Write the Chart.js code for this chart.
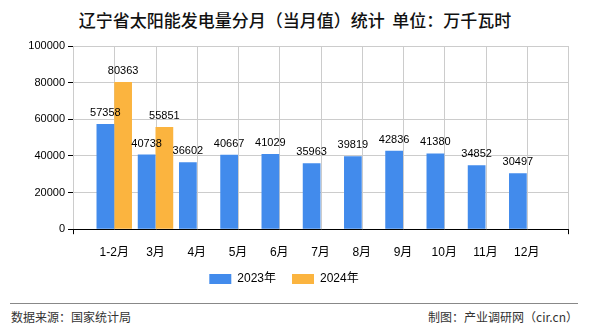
<!DOCTYPE html>
<html>
<head>
<meta charset="utf-8">
<script src="https://cdn.jsdelivr.net/npm/chart.js@4.4.1/dist/chart.umd.min.js"></script>
<style>
body { margin:0; width:590px; height:330px; background:#fff; position:relative; overflow:hidden; font-family:"Liberation Sans","Noto Sans CJK SC",sans-serif; }
#titulo { position:absolute; top:7px; left:0; width:590px; text-align:center; font:500 17px "Noto Sans CJK SC"; color:#111; }
#box { position:absolute; left:0; top:0; width:590px; height:295px; }
#linha { position:absolute; left:10px; width:568px; top:303px; border-top:1px solid #888; }
.rodape { position:absolute; top:308px; font-size:12px; color:#333; font-family:"Noto Sans CJK SC",sans-serif; }
</style>
</head>
<body>
<div id="titulo">辽宁省太阳能发电量分月（当月值）统计&nbsp;&nbsp;单位：万千瓦时</div>
<div id="box"><canvas id="grafico"></canvas></div>
<div id="linha"></div>
<div class="rodape" style="left:11px">数据来源：国家统计局</div>
<div class="rodape" style="right:12px">制图：产业调研网（cir.cn）</div>
<script>
// dados
const meses = ['1-2月', '3月', '4月', '5月', '6月', '7月', '8月', '9月', '10月', '11月', '12月'];
const v2023 = [57358, 40738, 36602, 40667, 41029, 35963, 39819, 42836, 41380, 34852, 30497];
const v2024 = [80363, 55851];
const yTicks = [0, 20000, 40000, 60000, 80000, 100000];

const AZUL = '#428BEC';
const LARANJA = '#FBB43F';

// uma posição vazia em cada ponta do eixo
const rotulosX = [''].concat(meses, ['']);
const completar = arr => [null].concat(meses.map((m, i) => arr[i] ?? null), [null]);

// grade vertical em todas as categorias (o Chart.js pulava linhas)
const gradeX = {
    id: 'gradeX',
    beforeDatasetsDraw(chart) {
        const { ctx, chartArea: a, scales: { x } } = chart;
        ctx.save();
        ctx.lineWidth = 1;
        ctx.strokeStyle = '#cccccc';
        ctx.beginPath();
        rotulosX.forEach((r, i) => {
            const px = Math.round(x.getPixelForValue(i)) + 0.5;
            ctx.moveTo(px, a.top);
            ctx.lineTo(px, a.bottom);
        });
        ctx.stroke();
        // tracinhos só nas pontas do eixo x
        ctx.strokeStyle = '#000';
        ctx.beginPath();
        [0, rotulosX.length - 1].forEach(i => {
            const px = Math.round(x.getPixelForValue(i)) + 0.5;
            ctx.moveTo(px, a.bottom);
            ctx.lineTo(px, a.bottom + 5);
        });
        ctx.stroke();
        ctx.restore();
    }
};

// valores em cima das barras
const rotulos = {
    id: 'rotulos',
    afterDatasetsDraw(chart) {
        const ctx = chart.ctx;
        ctx.save();
        ctx.font = '11px "Liberation Sans"';
        ctx.fillStyle = '#000';
        ctx.textAlign = 'center';
        ctx.textBaseline = 'alphabetic';
        chart.data.datasets.forEach((ds, i) => {
            chart.getDatasetMeta(i).data.forEach((bar, j) => {
                const v = ds.data[j];
                if (v == null) return;
                ctx.fillText(v, bar.x, bar.y - 8);
            });
        });
        ctx.restore();
    }
};

new Chart(document.getElementById('grafico'), {
    type: 'bar',
    data: {
        labels: rotulosX,
        datasets: [
            { label: '2023年', data: completar(v2023), backgroundColor: AZUL, borderWidth: 0 },
            { label: '2024年', data: completar(v2024), backgroundColor: LARANJA, borderWidth: 0 }
        ]
    },
    options: {
        responsive: true,
        maintainAspectRatio: false,
        animation: false,
        categoryPercentage: 0.86,
        barPercentage: 1,
        layout: { padding: { top: 46, right: 22, left: 0, bottom: 0 } },
        scales: {
            x: {
                offset: false,
                border: { color: '#000' },
                grid: { display: false },
                ticks: { color: '#000', font: { size: 12, family: '"Liberation Sans","Noto Sans CJK SC"' }, padding: 8, maxRotation: 0, autoSkip: false },
                afterFit: s => { s.height = 27.8; }
            },
            y: {
                min: 0,
                max: 100000,
                border: { color: '#000' },
                grid: { color: '#cccccc', tickColor: '#000', tickLength: 5 },
                afterBuildTicks: s => { s.ticks = yTicks.map(v => ({ value: v })); },
                ticks: { color: '#000', font: { size: 11, family: '"Liberation Sans"' }, padding: 3, callback: v => String(v) },
                afterFit: s => { s.width = 73; }
            }
        },
        plugins: {
            legend: {
                position: 'bottom',
                labels: { color: '#000', boxWidth: 22, boxHeight: 10, padding: 16, font: { size: 12, family: '"Liberation Sans","Noto Sans CJK SC"' } }
            },
            tooltip: { enabled: false }
        }
    },
    plugins: [gradeX, rotulos]
});
</script>
</body>
</html>
